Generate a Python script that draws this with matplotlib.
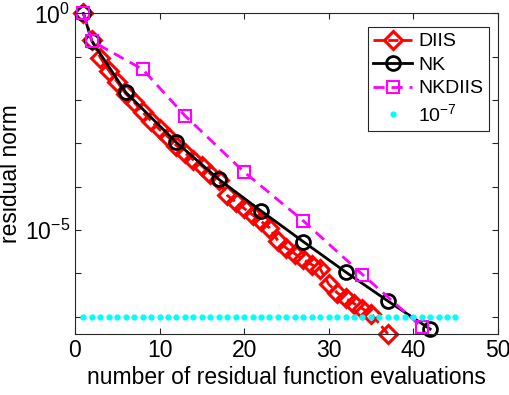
import numpy as np
import matplotlib
matplotlib.use('Agg')
from matplotlib import pyplot as plt

plt.rcParams['font.family'] = ['Liberation Sans', 'DejaVu Sans']
plt.rcParams['mathtext.default'] = 'regular'

# DIIS iterations (log10 of residual norm)
diis_x = [1, 2, 3, 4, 5, 6, 7, 8, 9, 10, 11, 12, 13, 14, 15, 16, 17, 18, 19,
          20, 21, 22, 23, 24, 25, 26, 27, 28, 29, 30, 31, 32, 33, 34, 35, 37]
diis_log = [0, -0.62, -1.02, -1.32, -1.58, -1.85, -2.05, -2.28, -2.48, -2.68,
            -2.85, -3.05, -3.22, -3.38, -3.52, -3.70, -3.85, -4.20, -4.35,
            -4.50, -4.65, -4.80, -4.95, -5.25, -5.42, -5.55, -5.68, -5.80,
            -5.90, -6.25, -6.45, -6.58, -6.70, -6.82, -6.93, -7.40]

nk_x = [1, 2, 6, 12, 17, 22, 27, 32, 37, 42]
nk_log = [0, -0.64, -1.82, -2.98, -3.83, -4.56, -5.27, -5.97, -6.64, -7.29]

nkdiis_x = [1, 2, 8, 13, 20, 27, 34, 41]
nkdiis_log = [0, -0.64, -1.29, -2.36, -3.66, -4.79, -6.03, -7.24]

tol_x = list(range(1, 46))
tol = 1e-7

fig = plt.figure(figsize=(5.1, 3.95), dpi=100)
ax = fig.add_axes([0.147, 0.155, 0.829, 0.811])

ax.semilogy(diis_x, 10.0 ** np.array(diis_log), '--', color='red', lw=2,
            marker='D', ms=9, mew=2.2, mfc='none', label='DIIS', clip_on=False)
ax.semilogy(nk_x, 10.0 ** np.array(nk_log), '-', color='black', lw=2,
            marker='o', ms=10, mew=2, mfc='none', label='NK', clip_on=False)
ax.semilogy(nkdiis_x, 10.0 ** np.array(nkdiis_log), color='magenta', lw=2,
            dashes=(4, 2.5), marker='s', ms=9, mew=1.5, mfc='none',
            label='NKDIIS', clip_on=False)
ax.semilogy(tol_x, [tol] * len(tol_x), '.', color='cyan', ms=7,
            label='10$^{-7}$')

ax.set_xlim(0, 50)
ax.set_ylim(4e-8, 1)
ax.set_xticks([0, 10, 20, 30, 40, 50])
decades = [10.0 ** -k for k in range(0, 8)]
ax.set_yticks(decades)
ax.set_yticklabels(['10$^{0}$' if d == 1 else ('10$^{-5}$' if d == 1e-5 else '')
                    for d in decades])
ax.minorticks_off()
ax.tick_params(direction='in', length=4, width=0.8, top=True, right=True,
               labelsize=16.5, colors='#262626')
ax.tick_params(axis='both', labelcolor='black')
for s in ax.spines.values():
    s.set_color('#262626')
    s.set_linewidth(0.8)

ax.set_xlabel('number of residual function evaluations', fontsize=16.5,
              labelpad=3)
ax.set_ylabel('residual norm', fontsize=16.5, labelpad=2)

leg = ax.legend(loc='upper right', fontsize=14, handlelength=2.0,
                borderaxespad=0.45, fancybox=False, framealpha=1,
                edgecolor='#262626', borderpad=0.3, labelspacing=0.3,
                handletextpad=0.3, bbox_to_anchor=(1.0, 0.985))
leg.get_frame().set_linewidth(0.8)

fig.savefig('out.png', dpi=100)
